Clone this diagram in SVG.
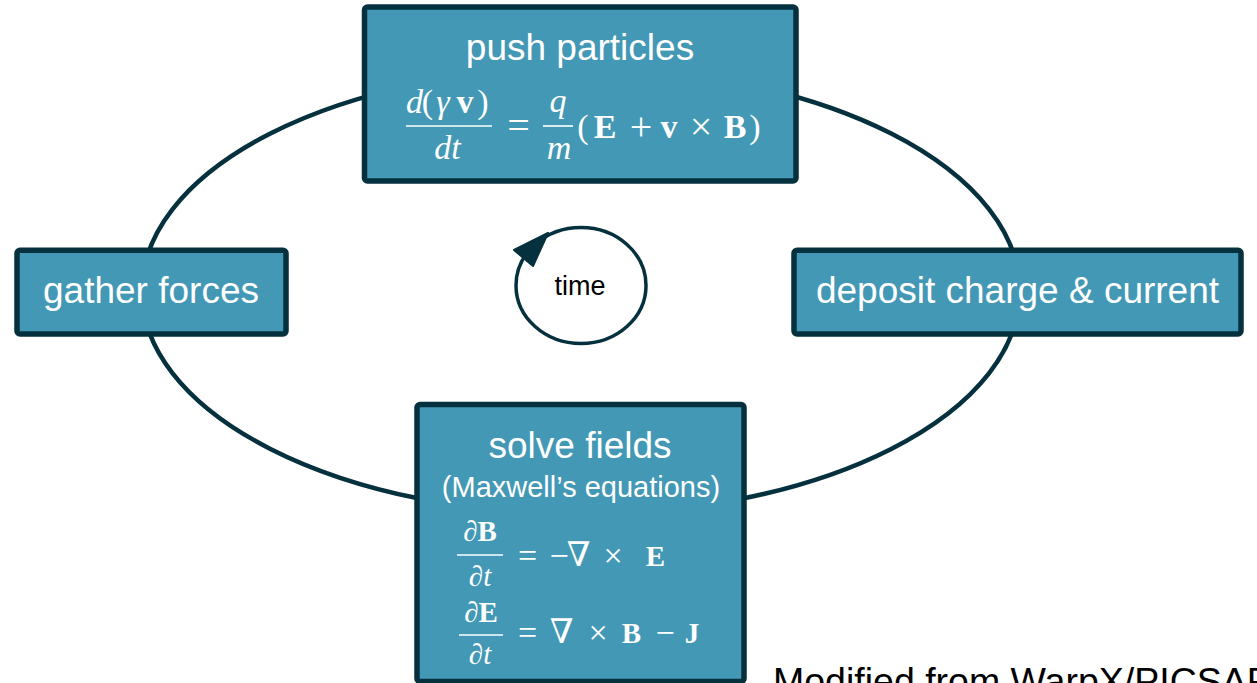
<svg xmlns="http://www.w3.org/2000/svg" width="1257" height="683" viewBox="0 0 1257 683">
<style>
.box{fill:#4298b5;stroke:#05303d;stroke-width:5.5;}
.title{font-family:"Liberation Sans",Arial,sans-serif;font-size:37px;fill:#ffffff;text-anchor:middle;}
.sub{font-family:"Liberation Sans",Arial,sans-serif;font-size:29px;fill:#ffffff;text-anchor:middle;}
.m{font-family:"Liberation Serif","DejaVu Serif",serif;fill:#ffffff;text-anchor:middle;}
.m32{font-size:34px;}
.m27{font-size:29px;}
.op1{font-size:40px;}
.op2{font-size:34px;}
.i{font-style:italic;}
.b{font-weight:bold;}
.fl{stroke:#ffffff;stroke-width:1.6;}
.conn{fill:none;stroke:#05303d;stroke-width:4.5;}
</style>
<rect width="1257" height="683" fill="#ffffff"/>
<g id="connectors">
  <ellipse class="conn" cx="580.8" cy="291.2" rx="439" ry="223"/>
</g>
<g id="time">
  <ellipse cx="581" cy="285.5" rx="65" ry="58" fill="none" stroke="#05303d" stroke-width="3.5"/>
  <polygon points="548,233 514,250 533,266" fill="#05303d" stroke="#05303d" stroke-width="2" stroke-linejoin="round"/>
  <text x="580" y="295" style="font-family:'Liberation Sans',Arial,sans-serif;font-size:27px;fill:#000000;text-anchor:middle;">time</text>
</g>
<g id="push">
  <rect class="box" x="364.5" y="7" width="431.5" height="174" rx="3"/>
  <text class="title" x="580" y="60">push particles</text>
  <g class="m m32">
    <text class="i" x="414.5" y="113">d</text>
    <text x="427.5" y="113">(</text>
    <text class="i" x="443" y="113">γ</text>
    <text class="b" x="465" y="113">v</text>
    <text x="483" y="113">)</text>
    <line class="fl" x1="406" y1="126" x2="492" y2="126"/>
    <text class="i" x="447.5" y="159">dt</text>
    <text class="op1" x="518.5" y="139">=</text>
    <text class="i" x="558" y="112">q</text>
    <line class="fl" x1="543" y1="126" x2="573" y2="126"/>
    <text class="i" x="559" y="159">m</text>
    <text x="583" y="138">(</text>
    <text class="b" x="605" y="138">E</text>
    <text class="op1" x="641" y="140">+</text>
    <text class="b" x="669" y="138">v</text>
    <text class="op1" x="701" y="140">×</text>
    <text class="b" x="735" y="138">B</text>
    <text x="755" y="138">)</text>
  </g>
</g>
<g id="gather">
  <rect class="box" x="17" y="250.3" width="269" height="83.7" rx="3"/>
  <text class="title" x="151" y="303">gather forces</text>
</g>
<g id="deposit">
  <rect class="box" x="794" y="250.3" width="447" height="83.7" rx="3"/>
  <text class="title" x="1017.5" y="303">deposit charge &amp; current</text>
</g>
<g id="solve">
  <rect class="box" x="417" y="404.5" width="327" height="277" rx="3"/>
  <text class="title" x="580" y="458">solve fields</text>
  <text class="sub" x="581" y="497">(Maxwell’s equations)</text>
  <g class="m m27">
    <text x="480" y="541">∂<tspan class="b">B</tspan></text>
    <line class="fl" x1="457" y1="555" x2="503" y2="555"/>
    <text x="480" y="586">∂<tspan class="i">t</tspan></text>
    <text class="op2" x="527.5" y="567">=</text>
    <text class="op2" x="559" y="567">−</text>
    <text class="op2" x="578.5" y="566">∇</text>
    <text class="op2" x="613" y="567">×</text>
    <text class="b" x="655.5" y="566">E</text>
    <text x="481" y="622">∂<tspan class="b">E</tspan></text>
    <line class="fl" x1="459" y1="635" x2="503" y2="635"/>
    <text x="480" y="664">∂<tspan class="i">t</tspan></text>
    <text class="op2" x="527.5" y="644">=</text>
    <text class="op2" x="561.5" y="643">∇</text>
    <text class="op2" x="598" y="644">×</text>
    <text class="b" x="631.5" y="643">B</text>
    <text class="op2" x="665" y="644">−</text>
    <text class="b" x="692" y="643">J</text>
  </g>
</g>
<text x="773" y="694" style="font-family:'Liberation Sans',Arial,sans-serif;font-size:37.5px;fill:#000000;">Modified from WarpX/PICSAR</text>
</svg>
